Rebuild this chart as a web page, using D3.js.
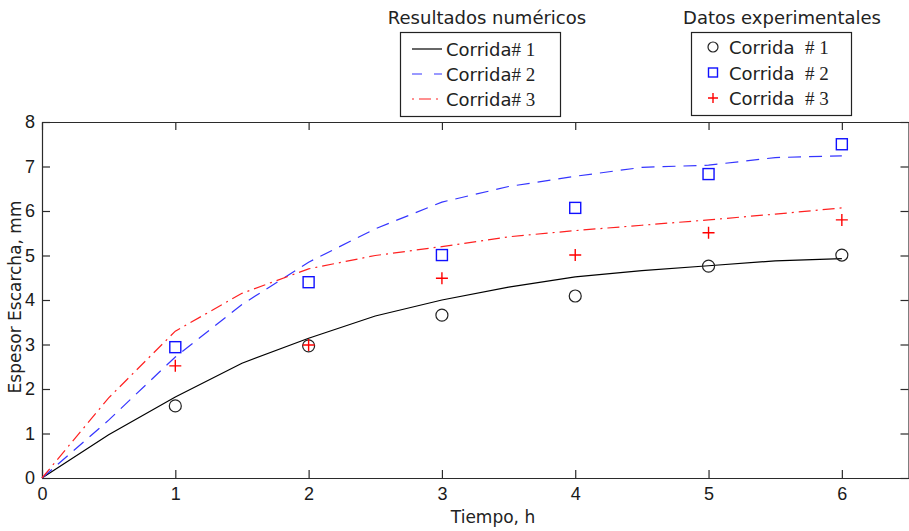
<!DOCTYPE html>
<html>
<head>
<meta charset="utf-8">
<script src="https://cdn.jsdelivr.net/npm/d3@7"></script>
<style>
  body { margin: 0; background: #fff; }
  svg { display: block; }
</style>
</head>
<body>
<div id="chart"></div>
<script>
// Simulation output, every half hour
const tSim = [0, 0.5, 1, 1.5, 2, 2.5, 3, 3.5, 4, 4.5, 5, 5.5, 6];
const sim1 = [0, 0.97, 1.82, 2.58, 3.14, 3.64, 4.0, 4.29, 4.52, 4.66, 4.77, 4.88, 4.93];
const sim2 = [0, 1.3, 2.72, 3.9, 4.85, 5.6, 6.2, 6.55, 6.78, 6.98, 7.03, 7.2, 7.24];
const sim3 = [0, 1.8, 3.3, 4.15, 4.7, 5.0, 5.2, 5.42, 5.56, 5.68, 5.8, 5.93, 6.07];

// Measured values, every hour
const tExp = [1, 2, 3, 4, 5, 6];
const exp1 = [1.62, 2.97, 3.66, 4.09, 4.76, 5.01];
const exp2 = [2.94, 4.4, 5.01, 6.07, 6.83, 7.5];
const exp3 = [2.52, 2.99, 4.49, 5.01, 5.51, 5.8];

const xTicks = [0, 1, 2, 3, 4, 5, 6];
const yTicks = [0, 1, 2, 3, 4, 5, 6, 7, 8];
const runLabels = ["1", "2", "3"];

const width = 909;
const height = 531;
const margin = { top: 122, right: 0.5, bottom: 53, left: 42 };

const svg = d3.select("#chart")
    .append("svg")
    .attr("width", width)
    .attr("height", height);

const xScale = d3.scaleLinear()
    .domain([0, 6.5])
    .range([margin.left, width - margin.right]);

const yScale = d3.scaleLinear()
    .domain([0, 8])
    .range([height - margin.bottom, margin.top]);

const axisFont = "Liberation Sans, Arial, sans-serif";
const legendFont = "DejaVu Sans, sans-serif";
const fmt = d3.format("d");

// Axes with inward ticks (matlab style)
const xAxis = svg.append("g")
    .attr("transform", `translate(0, ${height - margin.bottom})`)
    .call(d3.axisBottom(xScale).tickValues(xTicks).tickFormat(fmt).tickSizeInner(-8).tickSizeOuter(0).tickPadding(9));
const xAxisTop = svg.append("g")
    .attr("transform", `translate(0, ${margin.top})`)
    .call(d3.axisTop(xScale).tickValues(xTicks).tickSizeInner(-8).tickSizeOuter(0).tickFormat(""));
const yAxis = svg.append("g")
    .attr("transform", `translate(${margin.left}, 0)`)
    .call(d3.axisLeft(yScale).tickValues(yTicks).tickFormat(fmt).tickSizeInner(-8).tickSizeOuter(0).tickPadding(7));
const yAxisRight = svg.append("g")
    .attr("transform", `translate(${width - margin.right}, 0)`)
    .call(d3.axisRight(yScale).tickValues(yTicks).tickSizeInner(-8).tickSizeOuter(0).tickFormat(""));

[xAxis, xAxisTop, yAxis, yAxisRight].forEach(g => {
    g.selectAll("path, line").attr("stroke", "#2b2b2b").attr("stroke-width", 1.2);
    g.selectAll("text").attr("font-family", axisFont).attr("font-size", 18).attr("fill", "#1a1a1a");
});

// Axis titles
svg.append("text")
    .attr("x", 493)
    .attr("y", 523)
    .attr("text-anchor", "middle")
    .attr("font-family", legendFont)
    .attr("font-size", 17)
    .attr("fill", "#222")
    .text("Tiempo, h");

svg.append("text")
    .attr("transform", "translate(21, 297) rotate(-90)")
    .attr("text-anchor", "middle")
    .attr("font-family", legendFont)
    .attr("font-size", 17)
    .attr("fill", "#222")
    .text("Espesor Escarcha, mm");

// Line styles for the simulated runs
const simStyles = [
    { data: sim1, color: "#000", dash: null },
    { data: sim2, color: "#3535ff", dash: "13,8" },
    { data: sim3, color: "#ff2020", dash: "12,5,2,5" }
];

const line = d3.line()
    .x((d, i) => xScale(tSim[i]))
    .y(d => yScale(d));

simStyles.forEach(s => {
    svg.append("path")
        .datum(s.data)
        .attr("d", line)
        .attr("fill", "none")
        .attr("stroke", s.color)
        .attr("stroke-width", 1.2)
        .attr("stroke-dasharray", s.dash);
});

// Markers for the measured data
function drawMarker(g, type, cx, cy, size) {
    const r = size / 2;
    if (type === "circle") {
        g.append("circle")
            .attr("cx", cx).attr("cy", cy).attr("r", r)
            .attr("fill", "none").attr("stroke", "#222").attr("stroke-width", 1.2);
    } else if (type === "square") {
        g.append("rect")
            .attr("x", cx - r + 0.5).attr("y", cy - r + 0.5)
            .attr("width", size - 1).attr("height", size - 1)
            .attr("fill", "none").attr("stroke", "#1010ff").attr("stroke-width", 1.4);
    } else {
        g.append("path")
            .attr("d", `M${cx - r},${cy}H${cx + r}M${cx},${cy - r}V${cy + r}`)
            .attr("stroke", "#ff0000").attr("stroke-width", 1.4);
    }
}

const markerGroup = svg.append("g");
[[exp1, "circle"], [exp2, "square"], [exp3, "plus"]].forEach(([vals, type]) => {
    vals.forEach((v, i) => drawMarker(markerGroup, type, xScale(tExp[i]), yScale(v), 12));
});

// Legend: numerical results
const leg1 = svg.append("g");
leg1.append("text")
    .attr("x", 487).attr("y", 24)
    .attr("text-anchor", "middle")
    .attr("font-family", legendFont).attr("font-size", 18).attr("fill", "#222")
    .text("Resultados numéricos");
leg1.append("rect")
    .attr("x", 400.5).attr("y", 32.5).attr("width", 160).attr("height", 84)
    .attr("fill", "#fff").attr("stroke", "#222").attr("stroke-width", 1.2);

simStyles.forEach((s, i) => {
    const y = 49 + i * 25;
    leg1.append("line")
        .attr("x1", 412).attr("x2", 442).attr("y1", y).attr("y2", y)
        .attr("stroke", s.color).attr("stroke-width", 1.2)
        .attr("stroke-dasharray", s.dash ? (i === 1 ? "10,12" : "2,5,12,5") : null);
    const t = leg1.append("text")
        .attr("x", 446).attr("y", y + 7)
        .attr("font-family", legendFont).attr("font-size", 18).attr("fill", "#222");
    t.append("tspan").text("Corrida");
    t.append("tspan").attr("font-family", "Liberation Serif, serif").attr("font-size", 19).text("# " + runLabels[i]);
});

// Legend: experimental data
const leg2 = svg.append("g");
leg2.append("text")
    .attr("x", 782).attr("y", 24)
    .attr("text-anchor", "middle")
    .attr("font-family", legendFont).attr("font-size", 18).attr("fill", "#222")
    .text("Datos experimentales");
leg2.append("rect")
    .attr("x", 691.5).attr("y", 32.5).attr("width", 160).attr("height", 83)
    .attr("fill", "#fff").attr("stroke", "#222").attr("stroke-width", 1.2);

["circle", "square", "plus"].forEach((type, i) => {
    const y = 47 + i * 25.5;
    drawMarker(leg2, type, 713, y, 10);
    leg2.append("text")
        .attr("x", 729).attr("y", y + 7)
        .attr("font-family", legendFont).attr("font-size", 18).attr("fill", "#222")
        .text("Corrida");
    leg2.append("text")
        .attr("x", 805).attr("y", y + 7)
        .attr("font-family", "Liberation Serif, serif").attr("font-size", 19).attr("fill", "#222")
        .text("# " + runLabels[i]);
});
</script>
</body>
</html>
